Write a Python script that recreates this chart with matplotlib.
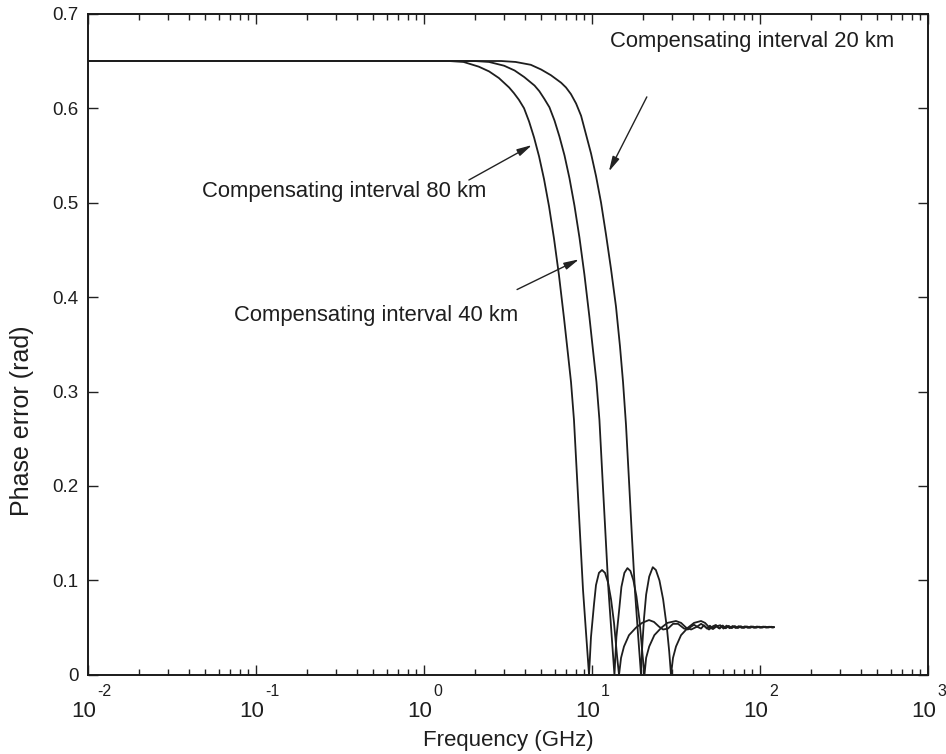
import numpy as np
import matplotlib
matplotlib.use("Agg")
import matplotlib.pyplot as plt
from matplotlib.ticker import LogLocator, FixedLocator, NullFormatter

plt.rcParams['font.family'] = ['Liberation Sans', 'DejaVu Sans']

# Phase error vs. frequency for three dispersion-compensating intervals
freq_80km = [0.01, 1.0, 1.41, 1.72, 2.12, 2.44, 2.79, 3.21, 3.43, 3.67, 3.94, 4.22, 4.52, 4.84, 5.18, 5.55, 5.94,
             6.36, 6.81, 7.19, 7.50, 7.81, 8.14, 8.48, 8.84, 9.21, 9.60,
             9.86, 10.28, 10.56, 11.0, 11.47, 11.95, 12.45, 12.98, 13.52, 14.09, 14.48,
             14.89, 15.50, 16.60, 18.28, 19.85, 21.84, 23.39, 25.06, 26.47, 28.34, 30.35, 32.51, 35.30, 37.27, 38.85,
             40.49, 42.20, 44.56,
             46.4, 48.3, 50.3, 52.4, 54.6, 56.9, 59.3, 61.8, 64.4, 67.1, 69.9, 72.8, 75.9, 79.1, 82.4, 85.9, 89.5,
             93.2, 97.1, 101.2, 105.5, 109.9, 114.5, 119.3, 121.1]
phase_80km = [0.65, 0.65, 0.650, 0.649, 0.644, 0.639, 0.632, 0.622, 0.616, 0.609, 0.600, 0.586, 0.569, 0.549, 0.525, 0.496, 0.462,
              0.423, 0.378, 0.340, 0.310, 0.270, 0.210, 0.150, 0.090, 0.045, 0.0,
              0.040, 0.075, 0.095, 0.108, 0.111, 0.108, 0.098, 0.080, 0.055, 0.020, 0.0,
              0.018, 0.030, 0.042, 0.050, 0.055, 0.058, 0.056, 0.051, 0.048, 0.049, 0.054, 0.054, 0.049, 0.048, 0.051,
              0.053, 0.051, 0.049,
              0.0525, 0.049, 0.052, 0.0492, 0.0518, 0.0494, 0.0516, 0.0495, 0.0514, 0.0497, 0.0513, 0.0498, 0.0512,
              0.0499, 0.0511, 0.050, 0.0511, 0.050, 0.051, 0.0501, 0.051, 0.0502, 0.0509, 0.0502, 0.0505]

freq_40km = [0.01, 2.00, 2.44, 3.00, 3.46, 3.95, 4.55, 4.86, 5.20, 5.58, 5.98, 6.40, 6.86, 7.34, 7.86, 8.42, 9.01,
             9.65, 10.19, 10.63, 11.07, 11.53, 12.02, 12.53, 13.05, 13.60,
             13.97, 14.57, 14.96, 15.59, 16.25, 16.93, 17.64, 18.39, 19.16, 19.97, 20.52,
             21.0, 21.9, 23.5, 25.9, 28.1, 31.6, 33.9, 36.3, 38.9, 42.2, 44.6, 47.1, 49.7, 52.5, 54.6,
             57.5, 60.0, 62.5, 65.2, 68.0, 70.9, 73.9, 77.0, 80.3, 83.7, 87.3, 91.0, 94.9, 98.9, 103.1, 107.5,
             112.0, 116.8, 121.1]
phase_40km = [0.65, 0.650, 0.649, 0.645, 0.640, 0.633, 0.624, 0.618, 0.610, 0.601, 0.587, 0.570, 0.550, 0.526, 0.497,
              0.463, 0.424, 0.379, 0.340, 0.310, 0.270, 0.210, 0.150, 0.090, 0.045, 0.0,
              0.040, 0.072, 0.093, 0.108, 0.113, 0.110, 0.100, 0.083, 0.058, 0.022, 0.0,
              0.018, 0.030, 0.042, 0.050, 0.055, 0.057, 0.055, 0.050, 0.048, 0.051, 0.054, 0.051, 0.048, 0.0515, 0.0528,
              0.049, 0.0522, 0.0493, 0.0518, 0.0495, 0.0516, 0.0496, 0.0514, 0.0497, 0.0512, 0.0498, 0.0511, 0.0499,
              0.051, 0.050, 0.051, 0.0501, 0.0509, 0.0504]

freq_20km = [0.01, 2.88, 3.51, 4.32, 4.98, 5.69, 6.55, 7.00, 7.49, 8.04, 8.61, 9.22, 9.87, 10.57, 11.32, 12.12, 12.97,
             13.89, 14.67, 15.30, 15.93, 16.61, 17.30, 18.03, 18.79, 19.58,
             19.9, 20.4, 21.0, 21.9, 23.0, 24.0, 25.2, 26.5, 27.9, 28.8, 29.53,
             30.35, 31.62, 33.88, 37.27, 40.49, 44.56, 47.09, 49.70, 52.48, 55.41, 58.0,
             60.6, 63.2, 65.9, 68.7, 71.6, 74.6, 77.8, 81.1, 84.5, 88.1, 91.8, 95.7, 99.8, 104.0, 108.4, 113.0,
             117.8, 121.1]
phase_20km = [0.65, 0.650, 0.649, 0.646, 0.641, 0.635, 0.627, 0.622, 0.615, 0.605, 0.592, 0.572, 0.552, 0.528, 0.500,
              0.466, 0.430, 0.390, 0.348, 0.310, 0.265, 0.205, 0.145, 0.088, 0.043, 0.0,
              0.030, 0.060, 0.085, 0.104, 0.114, 0.111, 0.100, 0.080, 0.050, 0.025, 0.0,
              0.018, 0.030, 0.042, 0.050, 0.055, 0.057, 0.055, 0.0505, 0.0485, 0.0515, 0.0525,
              0.049, 0.0521, 0.0494, 0.0517, 0.0496, 0.0515, 0.0497, 0.0513, 0.0498, 0.0512, 0.0499, 0.0511,
              0.050, 0.051, 0.0501, 0.0509, 0.0502, 0.0505]

x_decades = [-2, -1, 0, 1, 2, 3]
y_ticks = [0.0, 0.1, 0.2, 0.3, 0.4, 0.5, 0.6, 0.7]
y_tick_labels = ['0', '0.1', '0.2', '0.3', '0.4', '0.5', '0.6', '0.7']

ink = '#1e1e1e'

fig = plt.figure(figsize=(9.46, 7.54), dpi=100)
ax = fig.add_axes([0.093, 0.105, 0.888, 0.8767])

for f, p in [(freq_80km, phase_80km), (freq_40km, phase_40km), (freq_20km, phase_20km)]:
    ax.plot(f, p, color=ink, lw=1.3, solid_joinstyle='round', solid_capstyle='round')

ax.set_xscale('log')
ax.set_xlim(1e-2, 1e3)
ax.set_ylim(0, 0.7)

ax.xaxis.set_major_locator(FixedLocator([10.0 ** d for d in x_decades]))
ax.xaxis.set_minor_locator(LogLocator(base=10, subs=np.arange(2, 10), numticks=100))
ax.xaxis.set_minor_formatter(NullFormatter())
ax.xaxis.set_major_formatter(NullFormatter())

ax.yaxis.set_major_locator(FixedLocator(y_ticks))
ax.set_yticklabels(y_tick_labels)

ax.tick_params(which='both', direction='in', top=True, right=True, width=1.0, color='#222222')
ax.tick_params(which='major', length=7)
ax.tick_params(which='minor', length=4)
ax.tick_params(axis='y', which='major', labelsize=13.5, pad=7, labelcolor=ink)

# decade labels: "10" with a raised exponent, MATLAB style
xt = ax.get_xaxis_transform()
for d in x_decades:
    ax.annotate('10', xy=(10.0 ** d, 0), xycoords=xt, xytext=(-4, -37), textcoords='offset pixels',
                ha='center', va='center', fontsize=16, color=ink)
    ax.annotate('%d' % d, xy=(10.0 ** d, 0), xycoords=xt, xytext=(9, -17), textcoords='offset pixels',
                ha='left', va='center', fontsize=11.5, color=ink)

for sp in ax.spines.values():
    sp.set_linewidth(1.4)
    sp.set_color('#1a1a1a')

ax.set_xlabel('Frequency (GHz)', fontsize=16, color=ink, va='top')
ax.xaxis.set_label_coords(0.5, -0.084)
ax.set_ylabel('Phase error (rad)', fontsize=18, color=ink)
ax.yaxis.set_label_coords(-0.064, 0.385)

arrow_kw = dict(arrowstyle='-|>,head_length=0.9,head_width=0.22', color='#222222', lw=1.0,
                shrinkA=0, shrinkB=0)
text_kw = dict(fontsize=15.8, color=ink, va='center', ha='left')

ax.text(12.8, 0.671, 'Compensating interval 20 km', **text_kw)
ax.annotate('', xy=(12.6, 0.533), xytext=(21.2, 0.612), arrowprops=arrow_kw)

ax.text(0.0477, 0.512, 'Compensating interval 80 km', **text_kw)
ax.annotate('', xy=(4.39, 0.561), xytext=(1.85, 0.524), arrowprops=arrow_kw)

ax.text(0.074, 0.381, 'Compensating interval 40 km', **text_kw)
ax.annotate('', xy=(8.37, 0.44), xytext=(3.58, 0.408), arrowprops=arrow_kw)

fig.savefig('out.png', dpi=100, facecolor='white')
